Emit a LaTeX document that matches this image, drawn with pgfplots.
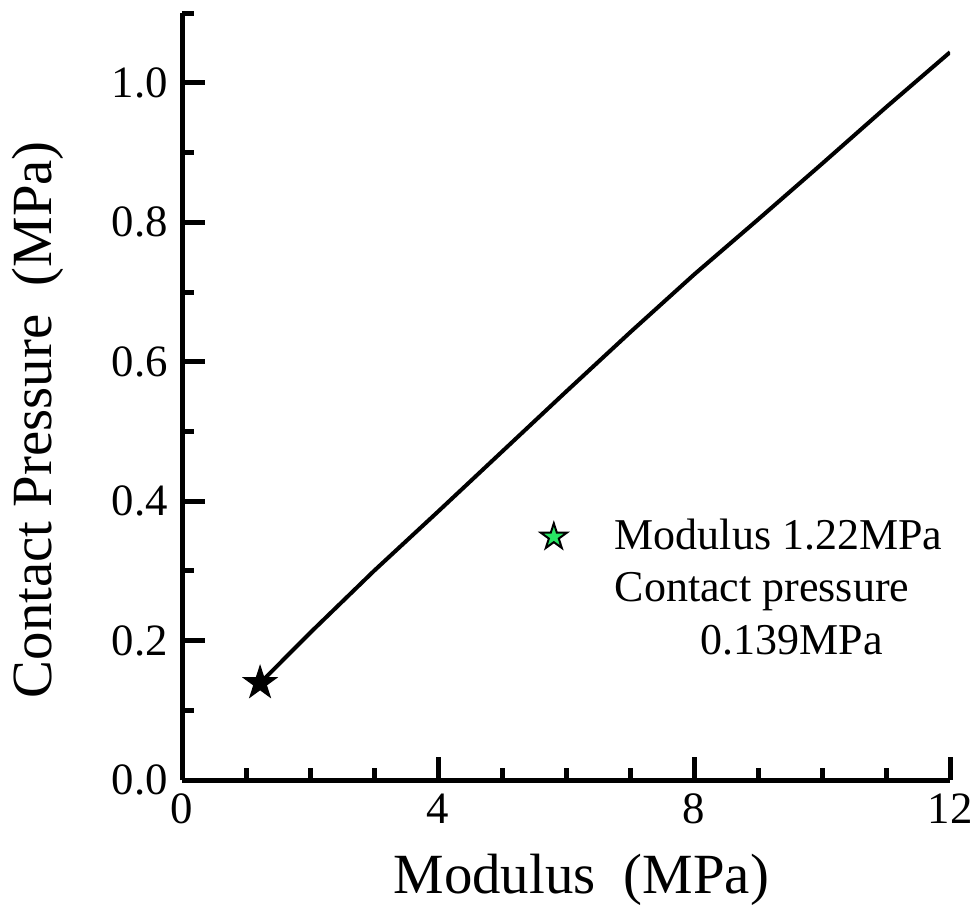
\documentclass[border=0pt]{standalone}
\usepackage{fontspec}
\setmainfont{Liberation Serif}
\usepackage{pgfplots}
\pgfplotsset{compat=1.18}
\pgfdeclareplotmark{fstar}{%
  \pgfpathmoveto{\pgfpointpolar{90}{\pgfplotmarksize}}%
  \pgfpathlineto{\pgfpointpolar{126}{0.382\pgfplotmarksize}}%
  \pgfpathlineto{\pgfpointpolar{162}{\pgfplotmarksize}}%
  \pgfpathlineto{\pgfpointpolar{198}{0.382\pgfplotmarksize}}%
  \pgfpathlineto{\pgfpointpolar{234}{\pgfplotmarksize}}%
  \pgfpathlineto{\pgfpointpolar{270}{0.382\pgfplotmarksize}}%
  \pgfpathlineto{\pgfpointpolar{306}{\pgfplotmarksize}}%
  \pgfpathlineto{\pgfpointpolar{342}{0.382\pgfplotmarksize}}%
  \pgfpathlineto{\pgfpointpolar{18}{\pgfplotmarksize}}%
  \pgfpathlineto{\pgfpointpolar{54}{0.382\pgfplotmarksize}}%
  \pgfpathclose
  \pgfusepathqfillstroke
}
\definecolor{stargreen}{RGB}{40,230,100}
\begin{document}
\begin{tikzpicture}
\begin{axis}[
  at={(0,0)}, anchor=origin,
  width=192pt, height=191.7pt, scale only axis,
  xmin=0, xmax=12, ymin=0, ymax=1.1,
  axis x line*=bottom, axis y line*=left,
  axis line style={line width=1.25pt},
  xtick={0,4,8,12}, minor xtick={1,2,3,5,6,7,9,10,11},
  ytick={0,0.2,0.4,0.6,0.8,1.0}, minor ytick={0.1,0.3,0.5,0.7,0.9,1.1},
  tick align=inside,
  major tick length=5.8pt, minor tick length=3.1pt,
  every tick/.style={line width=1.25pt, black},
  yticklabel style={/pgf/number format/.cd, fixed, fixed zerofill, precision=1},
  /pgf/number format/assume math mode=true,
  tick label style={font=\fontsize{11.2}{13}\selectfont},
  label style={font=\fontsize{14.2}{16}\selectfont},
  xlabel={Modulus\ \ (MPa)},
  ylabel={Contact Pressure\ \ (MPa)},
  xlabel style={at={(axis description cs:0.52,-0.13)}, anchor=center},
  ylabel style={at={(axis description cs:-0.1875,0.47)}, anchor=center},
  legend style={draw=none, fill=none, at={(rel axis cs:0.423,0.3627)}, anchor=north west,
    font=\fontsize{11}{13}\selectfont, row sep=0.4pt, cells={anchor=west}},
]
\addplot[black, line width=1pt, forget plot] coordinates {
 (1.22,0.139) (2,0.211) (3,0.300) (4,0.385) (5,0.471) (6,0.557)
 (7,0.642) (8,0.725) (9,0.804) (10,0.884) (11,0.965) (12,1.044)
};
\addplot[only marks, mark=fstar, mark options={draw=black, fill=black, line width=0.4pt}, mark size=4.1pt, forget plot]
  coordinates {(1.22,0.139)};
\addlegendimage{only marks, mark=fstar, mark size=3.4pt, mark options={draw=black, fill=stargreen, line width=0.5pt}}
\addlegendentry{\hspace{10pt}Modulus 1.22MPa}
\addlegendimage{empty legend}
\addlegendentry{\hspace{10pt}Contact pressure}
\addlegendimage{empty legend}
\addlegendentry{\hspace{31.5pt}0.139MPa}
\end{axis}
\pgfresetboundingbox
\path (-45.5pt,-35pt) rectangle (199.5pt,195pt);
\end{tikzpicture}
\end{document}
